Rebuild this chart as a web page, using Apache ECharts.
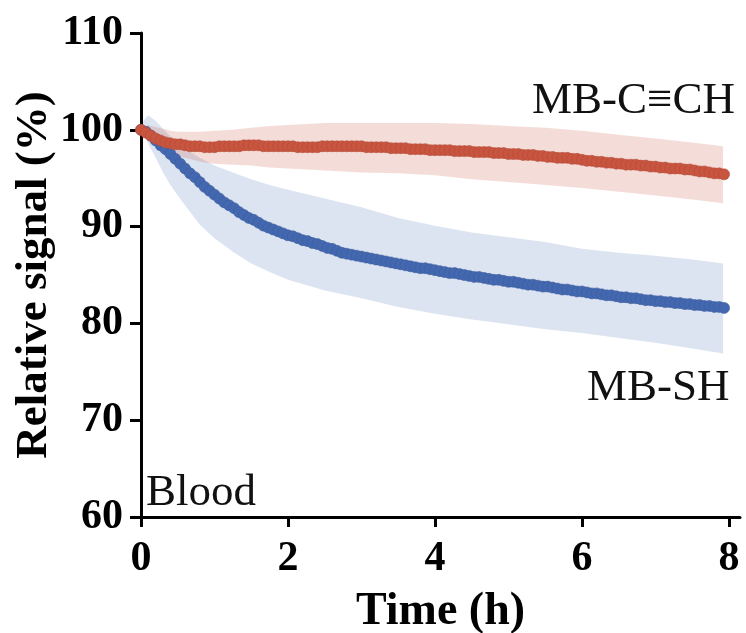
<!DOCTYPE html>
<html>
<head>
<meta charset="utf-8">
<script src="https://cdn.jsdelivr.net/npm/echarts@6/dist/echarts.min.js"></script>
<style>
html,body{margin:0;padding:0;background:#fff;}
#chart{width:746px;height:633px;}
</style>
</head>
<body>
<div id="chart"></div>
<script>
// ---- data ----
// sampling times in minutes (every 4 min)
const minutes = [0,4,8,12,16,20,24,28,32,36,40,44,48,52,56,60,64,68,72,76,80,84,88,92,96,100,104,108,112,116,
  120,124,128,132,136,140,144,148,152,156,160,164,168,172,176,180,184,188,192,196,200,204,208,212,216,220,224,228,232,236,
  240,244,248,252,256,260,264,268,272,276,280,284,288,292,296,300,304,308,312,316,320,324,328,332,336,340,344,348,352,356,
  360,364,368,372,376,380,384,388,392,396,400,404,408,412,416,420,424,428,432,436,440,444,448,452,456,460,464,468,472,476];
const shMean = [100.0,99.8,99.4,98.9,98.4,98.0,97.5,97.0,96.5,96.0,95.5,95.1,94.6,94.1,93.7,93.3,92.9,92.5,92.2,91.9,
  91.5,91.2,90.9,90.7,90.4,90.1,89.9,89.7,89.5,89.3,89.1,89.0,88.8,88.6,88.5,88.3,88.2,88.0,87.8,87.7,
  87.5,87.3,87.2,87.1,87.0,86.9,86.8,86.7,86.6,86.5,86.4,86.3,86.2,86.1,86.0,85.9,85.8,85.7,85.7,85.6,
  85.5,85.4,85.3,85.2,85.2,85.1,85.0,84.9,84.8,84.8,84.7,84.6,84.5,84.5,84.4,84.3,84.3,84.2,84.1,84.0,
  84.0,83.9,83.8,83.8,83.7,83.6,83.5,83.5,83.4,83.3,83.3,83.2,83.1,83.1,83.0,82.9,82.9,82.8,82.7,82.7,
  82.6,82.6,82.5,82.4,82.4,82.3,82.3,82.2,82.2,82.1,82.1,82.0,82.0,81.9,81.9,81.8,81.8,81.7,81.7,81.6];
const chMean = [100.0,99.7,99.4,99.1,98.9,98.7,98.6,98.5,98.5,98.4,98.3,98.3,98.3,98.2,98.2,98.2,98.3,98.3,98.3,98.3,
  98.3,98.4,98.4,98.4,98.4,98.3,98.3,98.3,98.3,98.3,98.3,98.3,98.2,98.2,98.2,98.2,98.2,98.3,98.3,98.3,
  98.3,98.3,98.3,98.3,98.3,98.3,98.2,98.2,98.2,98.2,98.2,98.1,98.1,98.1,98.1,98.0,98.0,98.0,98.0,97.9,
  97.9,97.9,97.9,97.9,97.8,97.8,97.8,97.8,97.7,97.7,97.7,97.7,97.6,97.6,97.6,97.5,97.5,97.5,97.4,97.4,
  97.4,97.3,97.3,97.2,97.2,97.1,97.1,97.1,97.0,97.0,96.9,96.8,96.8,96.7,96.7,96.6,96.6,96.5,96.5,96.4,
  96.4,96.4,96.3,96.3,96.2,96.2,96.1,96.1,96.0,96.0,96.0,95.9,95.9,95.8,95.7,95.7,95.6,95.5,95.5,95.4];
// shaded ±SD bands (hours)
const bandTimes = [0.03,0.1,0.2,0.3,0.4,0.5,0.65,0.8,1.0,1.25,1.5,1.75,2.0,2.5,3.0,3.5,4.0,4.5,5.0,5.5,6.0,6.5,7.0,7.5,7.92];
const shUpper = [100.9,101.5,100.9,100.1,99.3,98.6,97.8,97.1,96.3,95.6,94.9,94.3,93.8,92.9,92.0,90.9,90.1,89.4,88.9,88.4,87.7,87.3,87.0,86.6,86.2];
const shLower = [99.8,98.5,97.1,95.6,94.3,93.2,91.7,90.2,88.8,87.4,86.2,85.3,84.5,83.4,82.6,81.7,81.0,80.4,79.9,79.4,79.0,78.5,78.0,77.4,76.9];
const chUpper = [100.3,100.5,100.3,100.1,99.9,99.8,99.8,99.8,99.9,100.0,100.2,100.4,100.5,100.7,100.7,100.7,100.7,100.6,100.4,100.2,99.9,99.5,99.1,98.7,98.3];
const chLower = [99.7,99.3,98.7,98.2,97.7,97.3,97.0,96.7,96.5,96.4,96.3,96.1,96.0,95.8,95.6,95.5,95.3,94.9,94.6,94.3,94.0,93.6,93.2,92.8,92.4];
const xTicks = [0,2,4,6,8];
const seriesNames = ['MB-C\u2261CH','MB-SH'];
const panelLabel = 'Blood';

// ---- build ----
const RED = '#C8553F';
const BLUE = '#4468B0';
const hours = minutes.map(m => m / 60);
const pair = (xs, ys) => xs.map((x,i)=>[x, ys[i]]);
const serif = '"Liberation Serif","Times New Roman",serif';

function band(upper, lower, color) {
  return {
    type:'custom', silent:true, z:1, clip:true,
    data:[[bandTimes[0], upper[0]]],
    renderItem:function(params, api){
      const top = bandTimes.map((t,i)=>api.coord([t, upper[i]]));
      const bot = bandTimes.map((t,i)=>api.coord([t, lower[i]])).reverse();
      return {type:'polygon', shape:{points: top.concat(bot)}, style:{fill:color}};
    }
  };
}

const chart = echarts.init(document.getElementById('chart'), null, {renderer:'canvas'});
chart.setOption({
  animation:false,
  backgroundColor:'#fff',
  grid:{left:141, right:6, top:33, bottom:116, containLabel:false, outerBoundsMode:'none'},
  xAxis:{
    type:'value', min:0, max:8.15,
    name:'Time (h)', nameLocation:'middle', nameGap:72, nameMoveOverlap:false,
    nameTextStyle:{fontFamily:serif, fontWeight:'bold', fontSize:46, color:'#000'},
    axisLine:{show:true, lineStyle:{color:'#000', width:3}},
    axisTick:{show:true, customValues:xTicks, length:10, lineStyle:{color:'#000', width:3}},
    axisLabel:{customValues:xTicks, margin:21, fontFamily:serif, fontWeight:'bold', fontSize:42, color:'#000'},
    splitLine:{show:false}
  },
  yAxis:{
    type:'value', min:60, max:110, interval:10,
    name:'Relative signal (%)', nameLocation:'middle', nameGap:84, nameMoveOverlap:false,
    nameTextStyle:{fontFamily:serif, fontWeight:'bold', fontSize:45, color:'#000'},
    axisLine:{show:true, lineStyle:{color:'#000', width:3}},
    axisTick:{show:true, length:11, lineStyle:{color:'#000', width:3}},
    axisLabel:{margin:18, fontFamily:serif, fontWeight:'bold', fontSize:42, color:'#000'},
    splitLine:{show:false}
  },
  series:[
    band(shUpper, shLower, 'rgba(68,104,176,0.18)'),
    band(chUpper, chLower, 'rgba(200,85,63,0.2)'),
    {type:'line', name:seriesNames[1], data:pair(hours, shMean), symbol:'circle', symbolSize:11,
     showSymbol:true, showAllSymbol:true, itemStyle:{color:BLUE, borderColor:'#3A5C9E', borderWidth:0.6},
     lineStyle:{color:BLUE, width:7}, z:3},
    {type:'line', name:seriesNames[0], data:pair(hours, chMean), symbol:'circle', symbolSize:11,
     showSymbol:true, showAllSymbol:true, itemStyle:{color:RED, borderColor:'#B44A36', borderWidth:0.6},
     lineStyle:{color:RED, width:7}, z:4}
  ],
  graphic:[
    {type:'text', left:532, top:79, style:{text:seriesNames[0], font:'45px '+serif, fill:'#111'}},
    {type:'text', left:587, top:366, style:{text:seriesNames[1], font:'45px '+serif, fill:'#111'}},
    {type:'text', left:146, top:471, style:{text:panelLabel, font:'45px '+serif, fill:'#111'}}
  ]
});
</script>
</body>
</html>
